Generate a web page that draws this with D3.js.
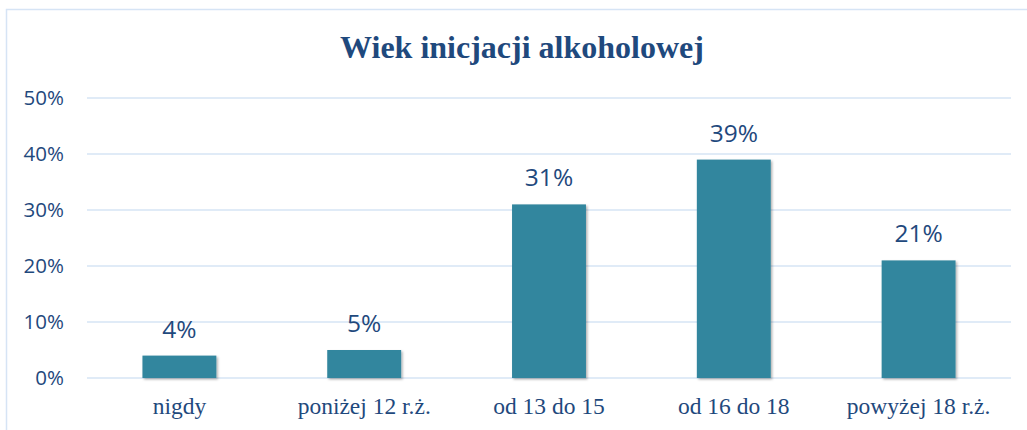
<!DOCTYPE html>
<html>
<head>
<meta charset="utf-8">
<script src="https://cdn.jsdelivr.net/npm/d3@7/dist/d3.min.js"></script>
<style>
  body { margin: 0; background: #fff; }
  svg { display: block; }
</style>
</head>
<body>
<svg id="chart" width="1027" height="430"></svg>
<script>
// data
const categories = ["nigdy", "poniżej 12 r.ż.", "od 13 do 15", "od 16 do 18", "powyżej 18 r.ż."];
const values = [4, 5, 31, 39, 21];
const yTicks = [0, 10, 20, 30, 40, 50];
const title = "Wiek inicjacji alkoholowej";

const svg = d3.select("#chart");
const width = 1027, height = 430;
const margin = { top: 98, right: 16, bottom: 52, left: 87 };

// chart frame
svg.append("rect")
    .attr("x", 6.5).attr("y", 9.5)
    .attr("width", width + 20).attr("height", height + 20)
    .attr("fill", "none")
    .attr("stroke", "#d6e4f5")
    .attr("stroke-width", 1.5);

svg.append("text")
    .attr("x", 522).attr("y", 58)
    .attr("text-anchor", "middle")
    .attr("font-family", "'Liberation Serif', 'Times New Roman', serif")
    .attr("font-weight", "bold")
    .attr("font-size", 32)
    .attr("fill", "#1f497d")
    .text(title);

const x = d3.scaleBand()
    .domain(categories)
    .range([margin.left, width - margin.right])
    .paddingInner(0.6)
    .paddingOuter(0.3);

const y = d3.scaleLinear()
    .domain([0, 50])
    .range([height - margin.bottom, margin.top]);

// gridlines
svg.append("g")
    .selectAll("line")
    .data(yTicks)
    .join("line")
        .attr("x1", margin.left).attr("x2", width - margin.right)
        .attr("y1", d => y(d)).attr("y2", d => y(d))
        .attr("stroke", "#d6e4f5")
        .attr("stroke-width", 1.5);

// y axis labels
svg.append("g")
    .selectAll("text")
    .data(yTicks)
    .join("text")
        .attr("x", 64)
        .attr("y", d => y(d))
        .attr("dy", "0.36em")
        .attr("text-anchor", "end")
        .attr("font-family", "'Open Sans', 'Noto Sans', sans-serif")
        .attr("font-size", 20.5)
        .attr("fill", "#1f497d")
        .text(d => d + "%");

// shadow for bars
const defs = svg.append("defs");
const f = defs.append("filter").attr("id", "shadow")
    .attr("x", "-10%").attr("y", "-10%").attr("width", "130%").attr("height", "130%");
f.append("feDropShadow")
    .attr("dx", 1.5).attr("dy", 1.5).attr("stdDeviation", 1.2)
    .attr("flood-color", "#000").attr("flood-opacity", 0.3);

svg.append("g")
    .selectAll("rect")
    .data(values)
    .join("rect")
        .attr("x", (d, i) => x(categories[i]))
        .attr("y", d => y(d))
        .attr("width", x.bandwidth())
        .attr("height", d => y(0) - y(d))
        .attr("fill", "#33869e")
        .attr("filter", "url(#shadow)");

// value labels
svg.append("g")
    .selectAll("text")
    .data(values)
    .join("text")
        .attr("x", (d, i) => x(categories[i]) + x.bandwidth() / 2)
        .attr("y", d => y(d) - 18)
        .attr("text-anchor", "middle")
        .attr("font-family", "'Open Sans', 'Noto Sans', sans-serif")
        .attr("font-size", 24.5)
        .attr("fill", "#1f497d")
        .text(d => d + "%");

// category labels
svg.append("g")
    .selectAll("text")
    .data(categories)
    .join("text")
        .attr("x", d => x(d) + x.bandwidth() / 2)
        .attr("y", 414)
        .attr("text-anchor", "middle")
        .attr("font-family", "'Liberation Serif', 'Times New Roman', serif")
        .attr("font-size", 23.5)
        .attr("fill", "#1f497d")
        .text(d => d);
</script>
</body>
</html>
